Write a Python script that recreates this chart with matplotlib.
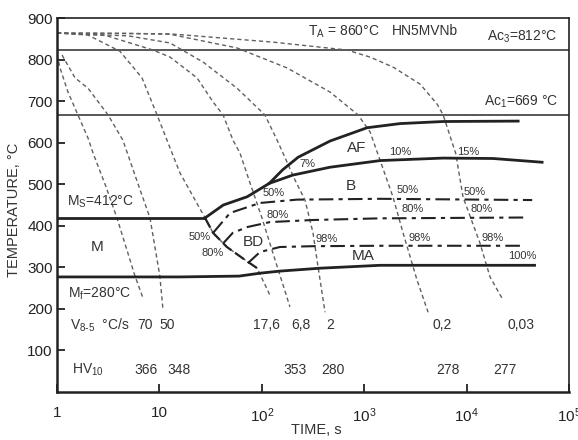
import matplotlib
matplotlib.use("Agg")
import matplotlib.pyplot as plt

plt.rcParams['font.family'] = ['Liberation Sans Narrow', 'Liberation Sans', 'DejaVu Sans']
plt.rcParams['mathtext.default'] = 'regular'

# ---------------- data ----------------
ac3_temp = 823
ac1_temp = 667
ms_time = [1, 27.9]
ms_temp = [419, 419]

mf_time = [1, 15.9, 60, 96, 150, 370, 1430, 46000]
mf_temp = [277, 277, 279, 286, 291, 298, 305, 305]

af_time = [27.9, 42, 72, 118, 160, 226, 463, 1065, 2237, 5880, 31800]
af_temp = [419, 450, 470, 502, 535, 565, 604, 636, 646, 651, 652]

bs_time = [118, 200, 463, 1430, 5880, 18100, 54500]
bs_temp = [502, 522, 541, 557, 563, 562, 553]

b50_time = [33.4, 49, 96, 220, 1430, 43600]
b50_temp = [383, 431, 455, 463, 465, 462]
b80_time = [42, 52, 72, 120, 316, 1430, 37000]
b80_temp = [358, 383, 397, 409, 414, 418, 420]
b98_time = [73, 96, 150, 316, 1430, 35000]
b98_temp = [310, 337, 349, 351, 352, 352]

mbound_time = [27.9, 33.4, 45.6, 65, 90]
mbound_temp = [419, 383, 349, 322, 298]

cool_curves = [
    ([1.0, 1.07, 1.28, 1.60, 2.01, 2.25, 3.0, 3.85, 5.78, 6.92],
     [812, 780, 722, 667, 611, 575, 495, 419, 279, 226]),
    ([1.12, 1.5, 2.01, 3.15, 4.4, 6.0, 8.09, 10.1, 10.8],
     [811, 756, 731, 667, 606, 510, 419, 279, 202]),
    ([1, 2.01, 4.12, 6.76, 9.48, 13.3, 15.9, 27.9, 33.4, 45.6, 65, 90, 120],
     [864, 859, 820, 756, 667, 575, 527, 419, 383, 349, 322, 298, 233]),
    ([1, 3, 8.66, 12.7, 23.3, 33.4, 41.8, 52.3, 61.2, 76.7, 100, 130, 160, 188],
     [864, 858, 823, 806, 756, 698, 667, 606, 575, 503, 420, 330, 260, 205]),
    ([1, 5, 12.7, 26.7, 57.3, 107, 141, 161, 211, 264, 316, 354, 414],
     [864, 857, 840, 794, 731, 667, 606, 575, 510, 462, 383, 301, 192]),
    ([1, 5, 12.7, 57.3, 176, 463, 869, 1140, 1426, 1910, 2393, 3280, 4200],
     [864, 863, 861, 828, 780, 722, 667, 626, 558, 469, 383, 269, 192]),
    ([1, 12.7, 129, 679, 1140, 1910, 3510, 5140, 5890, 7800, 9220, 13500, 16900, 22700],
     [864, 862, 842, 823, 806, 782, 741, 693, 667, 575, 469, 358, 277, 221]),
]

speed_labels = ['70', '50', '17,6', '6,8', '2', '0,2', '0,03']
hardness_labels = ['366', '348', '353', '280', '278', '277']

x_ticks = [1, 10, 100, 1000, 10000, 100000]
x_ticklabels = ['1', '10', '$10^2$', '$10^3$', '$10^4$', '$10^5$']
y_ticks = [100, 200, 300, 400, 500, 600, 700, 800, 900]

# ---------------- layout ----------------
speed_pos = [7.2, 11.9, 112, 241, 463, 5750, 34000]
hard_pos = [7.4, 15.5, 211, 494, 6600, 23600]

fig = plt.figure(figsize=(5.78, 4.40), dpi=100)
ax = fig.add_axes([0.0986, 0.109, 0.886, 0.850])
ax.set_xscale('log')
ax.set_xlim(1, 1e5)
ax.set_ylim(0, 900)

dark = '#222222'
gray = '#4a4a4a'

ax.axhline(ac3_temp, color=gray, lw=1.3)
ax.axhline(ac1_temp, color=gray, lw=1.3)

for t, T in cool_curves:
    ax.plot(t, T, color='#606060', lw=1.0, dashes=(3, 2.2))

ax.plot(ms_time, ms_temp, color=dark, lw=2.0)
ax.plot(mf_time, mf_temp, color=dark, lw=2.0)
ax.plot(af_time, af_temp, color=dark, lw=2.0)
ax.plot(bs_time, bs_temp, color=dark, lw=2.0)
ax.plot(mbound_time, mbound_temp, color=dark, lw=1.6, dashes=(5, 2))
for t, T in [(b50_time, b50_temp), (b80_time, b80_temp), (b98_time, b98_temp)]:
    ax.plot(t, T, color=dark, lw=1.5, dashes=(7, 2.5, 2, 2.5))

tc = '#333333'
fs = 10
for s, x in zip(speed_labels, speed_pos):
    ax.text(x, 161, s, ha='center', va='center', fontsize=fs, color=tc)
for s, x in zip(hardness_labels, hard_pos):
    ax.text(x, 53, s, ha='center', va='center', fontsize=fs, color=tc)

ax.text(1.34, 161, r'V$_{8\text{-}5}$  °C/s', ha='left', va='center', fontsize=fs, color=tc)
ax.text(1.40, 53, r'HV$_{10}$', ha='left', va='center', fontsize=fs, color=tc)
ax.text(1.25, 457, r'M$_S$=412°C', ha='left', va='center', fontsize=fs, color=tc)
ax.text(1.28, 236, r'M$_f$=280°C', ha='left', va='center', fontsize=fs, color=tc)
ax.text(2.46, 349, 'M', ha='center', va='center', fontsize=11, color=tc)
ax.text(282, 868, r'T$_A$ = 860°C', ha='left', va='center', fontsize=fs, color=tc)
ax.text(1850, 868, 'HN5MVNb', ha='left', va='center', fontsize=fs, color=tc)
ax.text(76400, 854, r'Ac$_3$=812°C', ha='right', va='center', fontsize=fs, color=tc)
ax.text(78000, 698, r'Ac$_1$=669 °C', ha='right', va='center', fontsize=fs, color=tc)

for s, x, y in [('AF', 850, 587), ('B', 743, 496), ('BD', 82, 361), ('MA', 973, 327)]:
    ax.text(x, y, s, ha='center', va='center', fontsize=11, color=tc)

pct = [('7%', 276, 549), ('10%', 2238, 577), ('15%', 10300, 577),
       ('50%', 129, 479), ('80%', 144, 426), ('98%', 433, 368),
       ('50%', 2680, 486), ('80%', 3000, 440), ('98%', 3510, 371),
       ('50%', 12100, 481), ('80%', 14100, 440), ('98%', 18100, 371),
       ('100%', 34800, 327), ('50%', 24.9, 373), ('80%', 33.4, 334)]
for s, x, y in pct:
    ax.text(x, y, s, ha='center', va='center', fontsize=8, color=tc)

ax.set_xticks(x_ticks)
ax.set_xticklabels(x_ticklabels)
ax.minorticks_off()
ax.set_yticks(y_ticks)
ax.tick_params(direction='in', length=6, width=1.3, labelsize=11, colors=dark, pad=3)
ax.tick_params(axis='x', pad=10)
for sp in ['left', 'bottom']:
    ax.spines[sp].set_linewidth(1.8)
    ax.spines[sp].set_color(dark)
for sp in ['top', 'right']:
    ax.spines[sp].set_linewidth(1.2)
    ax.spines[sp].set_color(dark)

fig.text(14 / 578, 1 - 210 / 440, 'TEMPERATURE, °C', rotation=90, ha='center', va='center',
         fontsize=10.5, color=tc)
fig.text(316 / 578, 1 - 430 / 440, 'TIME, s', ha='center', va='center', fontsize=10.5, color=tc)

fig.savefig('out.png', dpi=100)
